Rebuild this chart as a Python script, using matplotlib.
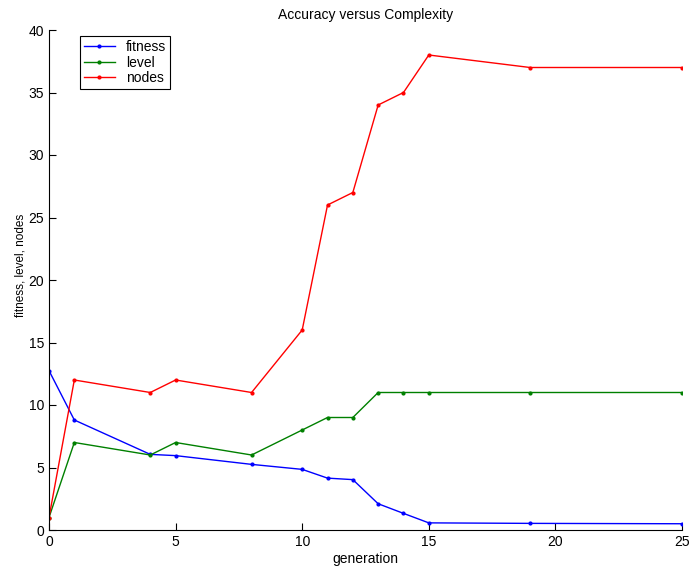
import matplotlib
matplotlib.use("Agg")
import matplotlib.pyplot as plt
from matplotlib import font_manager

generation = [0, 1, 4, 5, 8, 10, 11, 12, 13, 14, 15, 19, 25]
fitness = [12.75, 8.8, 6.05, 5.95, 5.25, 4.85, 4.15, 4.03, 2.1, 1.33, 0.57, 0.53, 0.5]
level = [1, 7, 6, 7, 6, 8, 9, 9, 11, 11, 11, 11, 11]
nodes = [1, 12, 11, 12, 11, 16, 26, 27, 34, 35, 38, 37, 37]

xticks = [0, 5, 10, 15, 20, 25]
yticks = [0, 5, 10, 15, 20, 25, 30, 35, 40]

plt.rcParams['font.family'] = ['Liberation Sans', 'DejaVu Sans']
plt.rcParams['font.size'] = 10

names = {f.name for f in font_manager.fontManager.ttflist}
if 'Liberation Sans Narrow' in names:
    ylab_family, ylab_size = ['Liberation Sans Narrow', 'DejaVu Sans'], 10
else:
    ylab_family, ylab_size = ['Liberation Sans', 'DejaVu Sans'], 8.5

fig = plt.figure(figsize=(6.89, 5.69), dpi=100)
ax = fig.add_axes([49/689, 39/569, 633/689, 500/569])

ax.plot(generation, fitness, color=(0, 0, 1), marker='.', markersize=4, lw=1, label='fitness')
ax.plot(generation, level, color=(0, 0.5, 0), marker='.', markersize=4, lw=1, label='level')
ax.plot(generation, nodes, color=(1, 0, 0), marker='.', markersize=4, lw=1, label='nodes')

ax.set_xlim(0, 25)
ax.set_ylim(0, 40)
ax.set_xticks(xticks)
ax.set_yticks(yticks)
ax.tick_params(direction='in', length=5, width=0.8, colors='black', labelsize=10)
ax.spines['top'].set_visible(False)
ax.spines['right'].set_visible(False)
for s in ['left', 'bottom']:
    ax.spines[s].set_linewidth(0.8)

ax.set_xlabel('generation', fontsize=10, labelpad=2)
ax.set_ylabel('fitness, level, nodes', fontsize=ylab_size, family=ylab_family)
ax.yaxis.set_label_coords(-0.036, 0.53)
ax.set_title('Accuracy versus Complexity', fontsize=10, pad=8)

leg = ax.legend(loc='upper left', bbox_to_anchor=(0.049, 0.988), borderaxespad=0,
                fancybox=False, edgecolor='black', framealpha=1, fontsize=10,
                handlelength=2.2, handletextpad=0.8, labelspacing=0.1, borderpad=0.3)
leg.get_frame().set_linewidth(0.8)

fig.savefig('out.png', dpi=100)
